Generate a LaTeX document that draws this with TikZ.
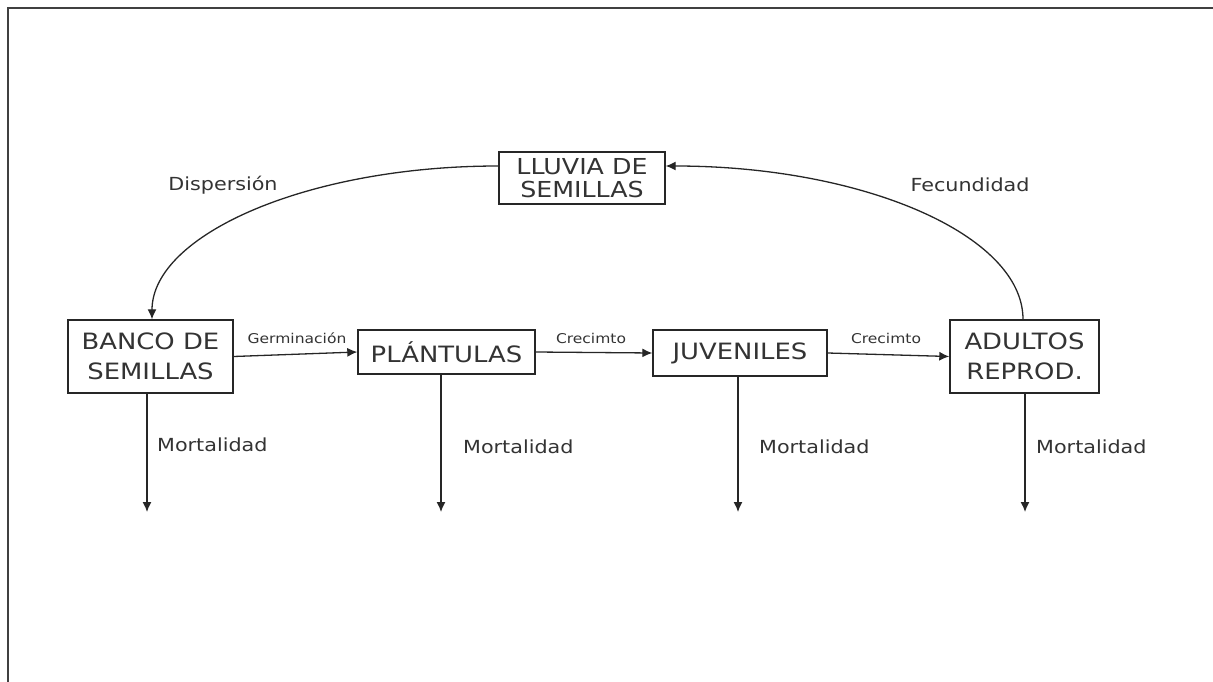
\documentclass[tikz,border=0pt]{standalone}
\usepackage{fontspec}
\setmainfont[FakeStretch=1.15]{DejaVu Sans}
\usetikzlibrary{arrows.meta}
\begin{document}
\begin{tikzpicture}[x=1pt,y=-1pt,
  box/.style={draw=black!85, line width=1.4pt, align=center, inner sep=0pt, text=black!80, font=\fontsize{22.5}{30}\selectfont},
  conn/.style={line width=1.3pt, draw=black!85, -{Latex[length=10pt,width=9pt]}},
  lab/.style={font=\fontsize{18}{20}\selectfont, inner sep=0pt, text=black!80},
  slab/.style={font=\fontsize{13.5}{15}\selectfont, inner sep=0pt, text=black!80}]
\useasboundingbox (0,0) rectangle (1213,682);
\draw[line width=1.6pt, black!75] (8,682) -- (8,8) -- (1213,8);
\node[box, minimum width=166pt, minimum height=52pt, font=\fontsize{22}{23.5}\selectfont] (ll) at (582,178) {LLUVIA DE\\SEMILLAS};
\node[box, minimum width=165pt, minimum height=73pt] (bs) at (150.5,356.5) {BANCO DE\\SEMILLAS};
\node[box, minimum width=177pt, minimum height=44pt] (pl) at (446.5,352) {PLÁNTULAS};
\node[box, minimum width=174pt, minimum height=46pt] (ju) at (740,353) {JUVENILES};
\node[box, minimum width=149pt, minimum height=73pt] (ad) at (1024.5,356.5) {ADULTOS\\REPROD.};
\coordinate (m1) at (147,512);
\coordinate (m2) at (441,512);
\coordinate (m3) at (738,512);
\coordinate (m4) at (1025,512);
\coordinate (dtop) at (152,0);
\coordinate (ftop) at (1023,0);
\coordinate (lw) at (0,166);
\draw[conn] (bs.east) -- (pl.west);
\draw[conn] (pl.east) -- (ju.west);
\draw[conn] (ju.east) -- (ad.west);
\draw[conn] (bs.south -| m1) -- (m1);
\draw[conn] (pl.south -| m2) -- (m2);
\draw[conn] (ju.south -| m3) -- (m3);
\draw[conn] (ad.south -| m4) -- (m4);
\draw[conn] (ll.west |- lw) .. controls (307,166) and (152,235) .. (bs.north -| dtop);
\draw[conn] (ad.north -| ftop) .. controls (1023,235) and (863,166) .. (ll.east |- lw);
\node[lab] (d) at (223,185) {Dispersión};
\node[lab] (f) at (970,185) {Fecundidad};
\node[slab] (g) at (297,338) {Germinación};
\node[slab] (c1) at (591,338) {Crecimto};
\node[slab] (c2) at (886,338) {Crecimto};
\node[lab, anchor=west] (mo1) at (157,445) {Mortalidad};
\node[lab, anchor=west] (mo2) at (463,447) {Mortalidad};
\node[lab, anchor=west] (mo3) at (759,447) {Mortalidad};
\node[lab, anchor=west] (mo4) at (1036,447) {Mortalidad};
\end{tikzpicture}
\end{document}
